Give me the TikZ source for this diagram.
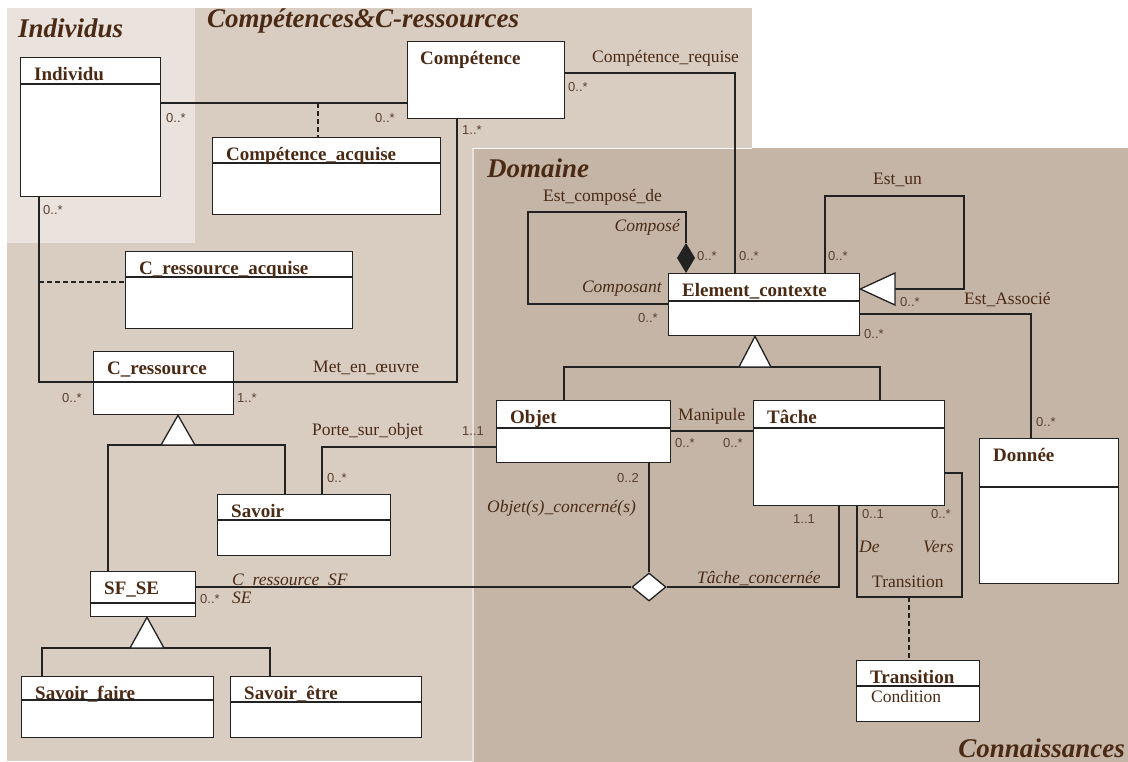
\documentclass[tikz,border=0pt]{standalone}
\usepackage{fontspec}
\setmainfont{Liberation Serif}
\newfontfamily\multfont{Liberation Sans}
\usetikzlibrary{shapes.geometric}
\definecolor{txt}{HTML}{4A2A14}
\definecolor{multc}{HTML}{5A4030}
\definecolor{bgind}{HTML}{EAE3DD}
\definecolor{bgcomp}{HTML}{D9CCC1}
\definecolor{bgdom}{HTML}{C5B5A6}
\definecolor{ln}{HTML}{222222}
\tikzset{
 clsbox/.style={draw=ln, fill=white, line width=1.3pt, inner sep=0pt, rectangle},
 clstitle/.style={anchor=base west, inner sep=0pt, text=txt, font=\fontsize{19}{21}\selectfont\bfseries},
 conn/.style={draw=ln, line width=1.3pt},
 dashconn/.style={draw=ln, line width=1.3pt, dash pattern=on 5pt off 3pt},
 mult/.style={anchor=base west, inner sep=0pt, text=multc, font=\multfont\fontsize{13}{15}\selectfont},
 lbl/.style={anchor=base west, inner sep=0pt, text=txt, font=\fontsize{17.5}{19}\selectfont},
 role/.style={anchor=base west, inner sep=0pt, text=txt, font=\fontsize{17.5}{19}\selectfont\itshape},
 heading/.style={anchor=base west, inner sep=0pt, text=txt, font=\fontsize{27}{30}\selectfont\bfseries\itshape},
 gen/.style={draw=ln, fill=white, line width=1.3pt},
 nary/.style={diamond, draw=ln, fill=white, line width=1.3pt, minimum width=34pt, minimum height=28pt, inner sep=0pt},
}
\newcommand{\umlclass}[7]{%
  \node[clsbox, anchor=north west, minimum width={(#4)-(#2)}, minimum height={(#5)-(#3)}] (#1) at (#2,#3) {};
  \draw[conn] (#1.west |- 0,#6) -- (#1.east |- 0,#6);
  \node[clstitle] (#1t) at ({#2+14},{#3+23.5}) {#7};
}
\begin{document}
\begin{tikzpicture}[x=1pt,y=-1pt]
\useasboundingbox (0,0) rectangle (1128,762);
% backgrounds
\fill[bgcomp] (7,8) rectangle (752,761);
\fill[bgind] (7,8) rectangle (195,243);
\fill[bgdom] (472,148) rectangle (1128,762);
\draw[white, line width=1.2pt] (472,148.5) -- (752,148.5);
\draw[bgcomp!60!white, line width=2pt] (473,149) -- (473,762);
% headings
\node[heading] (hInd) at (18,38) {Individus};
\node[heading] (hComp) at (207,28) {Compétences\&C-ressources};
\node[heading] (hDom) at (487,178) {Domaine};
\node[heading, anchor=base east] (hCon) at (1125,757) {Connaissances};
% classes
\umlclass{indiv}{20}{57}{160}{196}{84}{Individu}
\node[clsbox, anchor=north west, minimum width=157pt, minimum height=77pt] (comp) at (407,41) {};
\node[clstitle] (compt) at (420,64.5) {Compétence};
\umlclass{cacq}{212}{137}{440}{214}{163}{Compétence\_acquise}
\umlclass{cracq}{125}{251}{352}{328}{277}{C\_ressource\_acquise}
\umlclass{cres}{93}{351}{233}{414}{382}{C\_ressource}
\umlclass{savoir}{217}{494}{390}{555}{520}{Savoir}
\umlclass{sfse}{90}{571}{195}{616}{603}{SF\_SE}
\umlclass{sfaire}{21}{676}{213}{737}{700}{Savoir\_faire}
\umlclass{setre}{230}{676}{421}{737}{702}{Savoir\_être}
\umlclass{elem}{668}{273}{859}{335}{301}{Element\_contexte}
\umlclass{objet}{496}{400}{670}{462}{428}{Objet}
\umlclass{tache}{753}{400}{944}{505}{428}{Tâche}
\umlclass{donnee}{979}{438}{1118}{583}{487}{Donnée}
\umlclass{trans}{856}{660}{979}{721}{686}{Transition}
\node[lbl] (cond) at (871,702) {Condition};
% Individu -- Competence
\draw[conn] (indiv.east |- 0,103) -- (comp.west |- 0,103);
\coordinate (caj) at (318,103);
\draw[dashconn] (caj) -- (cacq.north -| caj);
% Individu -- C_ressource
\draw[conn] (indiv.south -| 39,0) -- (39,382) -- (cres.west |- 0,382);
\coordinate (crj) at (39,282);
\draw[dashconn] (crj) -- (cracq.west |- crj);
% Met en oeuvre
\draw[conn] (comp.south -| 457,0) -- (457,382) -- (cres.east |- 0,382);
% Competence requise
\draw[conn] (comp.east |- 0,73) -- (735,73) -- (elem.north -| 735,0);
% Est compose de
\draw[conn] (686,243) -- (686,212) -- (528,212) -- (528,304) -- (elem.west |- 0,304);
\fill[ln] (elem.north -| 686,0) -- ++(9,-15) -- ++(-9,-15) -- ++(-9,15) -- cycle;
% Est un
\draw[conn] (895,289) -- (964,289) -- (964,196) -- (825,196) -- (elem.north -| 825,0);
\draw[gen] (elem.east |- 0,289) -- (895,273) -- (895,305) -- cycle;
% Est associe
\draw[conn] (elem.east |- 0,314) -- (1031,314) -- (donnee.north -| 1031,0);
% generalisation Element
\draw[conn] (objet.north -| 564,0) -- (564,367) -- (880,367) -- (tache.north -| 880,0);
\draw[gen] (elem.south -| 755,0) -- (771,367) -- (739,367) -- cycle;
% Manipule
\draw[conn] (objet.east |- 0,431) -- (tache.west |- 0,431);
% Porte sur objet
\draw[conn] (objet.west |- 0,447) -- (322,447) -- (savoir.north -| 322,0);
% generalisation C_ressource
\draw[conn] (sfse.north -| 108,0) -- (108,445) -- (285,445) -- (savoir.north -| 285,0);
\draw[gen] (cres.south -| 178,0) -- (195,445) -- (161,445) -- cycle;
% generalisation SF_SE
\draw[conn] (sfaire.north -| 42,0) -- (42,648) -- (270,648) -- (setre.north -| 270,0);
\draw[gen] (sfse.south -| 147,0) -- (164,648) -- (130,648) -- cycle;
% n-ary association
\node[nary] (nd) at (649,587) {};
\draw[conn] (sfse.east |- nd) -- (nd.west);
\draw[conn] (objet.south -| nd) -- (nd.north);
\draw[conn] (nd.east) -- (839,587) -- (tache.south -| 839,0);
% Transition loop
\draw[conn] (tache.south -| 857,0) -- (857,597) -- (962,597) -- (962,473) -- (tache.east |- 0,473);
\coordinate (trj) at (909,597);
\draw[dashconn] (trj) -- (trans.north -| trj);
% labels
\node[mult] (m1) at (166,123) {0..*};
\node[mult] (m2) at (375,123) {0..*};
\node[mult] (m3) at (43,215) {0..*};
\node[mult] (m4) at (462,135) {1..*};
\node[lbl] (l1) at (592,63) {Compétence\_requise};
\node[mult] (m5) at (568,92) {0..*};
\node[lbl] (l2) at (313,372) {Met\_en\_œuvre};
\node[mult] (m6) at (62,402) {0..*};
\node[mult] (m7) at (237,402) {1..*};
\node[lbl] (l3) at (312,435) {Porte\_sur\_objet};
\node[mult] (m8) at (462,435) {1..1};
\node[mult] (m9) at (327,482) {0..*};
\node[role] (r1) at (232,585) {C\_ressource\_SF};
\node[mult] (m10) at (200,603) {0..*};
\node[role] (r2) at (232,603) {SE};
\node[lbl] (l4) at (543,202) {Est\_composé\_de};
\node[role, anchor=base east] (r3) at (680,232) {Composé};
\node[mult] (m11) at (697,261) {0..*};
\node[mult] (m12) at (739,261) {0..*};
\node[role, anchor=base east] (r4) at (662,293) {Composant};
\node[mult] (m13) at (638,323) {0..*};
\node[lbl] (l5) at (873,185) {Est\_un};
\node[mult] (m14) at (828,261) {0..*};
\node[mult] (m15) at (900,307) {0..*};
\node[lbl] (l6) at (964,305) {Est\_Associé};
\node[mult] (m16) at (864,338) {0..*};
\node[lbl] (l7) at (678,420) {Manipule};
\node[mult] (m17) at (675,447) {0..*};
\node[mult] (m18) at (723,447) {0..*};
\node[mult] (m19) at (617,482) {0..2};
\node[role] (r5) at (487,512) {Objet(s)\_concerné(s)};
\node[mult] (m20) at (793,523) {1..1};
\node[role] (r6) at (697,583) {Tâche\_concernée};
\node[mult] (m21) at (1036,426) {0..*};
\node[mult] (m22) at (862,518) {0..1};
\node[mult] (m23) at (931,518) {0..*};
\node[role] (r7) at (859,552) {De};
\node[role] (r8) at (923,552) {Vers};
\node[lbl] (l8) at (872,587) {Transition};
\end{tikzpicture}
\end{document}
